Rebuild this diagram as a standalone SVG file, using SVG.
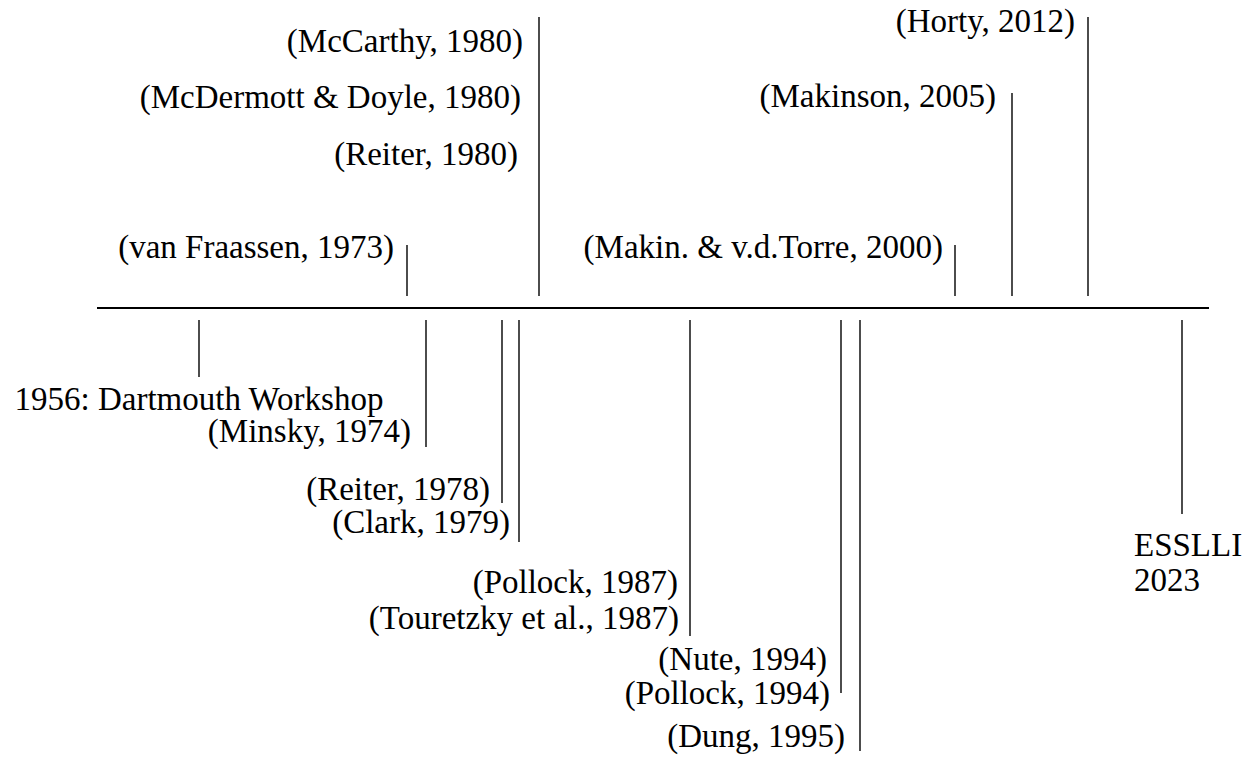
<svg xmlns="http://www.w3.org/2000/svg" width="1251" height="757" viewBox="0 0 1251 757">
<style>
  text { font-family: "Liberation Serif", "Times New Roman", serif; font-size: 33px; fill: #000; }
  .r { text-anchor: end; }
  .c { text-anchor: middle; }
  .tick { stroke: #000; stroke-width: 1.4; fill: none; }
  .axis { stroke: #000; stroke-width: 1.8; fill: none; }
</style>
<rect width="1251" height="757" fill="#fff"/>
<g id="connectors">
  <line class="axis" x1="97" y1="308" x2="1209" y2="308"/>
  <line class="tick" x1="407" y1="245" x2="407" y2="296"/>
  <line class="tick" x1="539" y1="17" x2="539" y2="296"/>
  <line class="tick" x1="955" y1="245" x2="955" y2="296"/>
  <line class="tick" x1="1012" y1="93" x2="1012" y2="296"/>
  <line class="tick" x1="1088" y1="17" x2="1088" y2="296"/>
  <line class="tick" x1="199" y1="320" x2="199" y2="377"/>
  <line class="tick" x1="426" y1="320" x2="426" y2="447"/>
  <line class="tick" x1="502" y1="320" x2="502" y2="503"/>
  <line class="tick" x1="519" y1="320" x2="519" y2="542"/>
  <line class="tick" x1="690" y1="320" x2="690" y2="636"/>
  <line class="tick" x1="841" y1="320" x2="841" y2="693"/>
  <line class="tick" x1="860" y1="320" x2="860" y2="751"/>
  <line class="tick" x1="1182" y1="320" x2="1182" y2="514"/>
</g>
<g id="n1980">
  <text class="r" x="523" y="52">(McCarthy, 1980)</text>
  <text class="r" x="521" y="108">(McDermott &amp; Doyle, 1980)</text>
  <text class="r" x="518" y="165">(Reiter, 1980)</text>
</g>
<g id="n1973"><text class="r" x="394" y="258">(van Fraassen, 1973)</text></g>
<g id="n2000"><text class="r" x="943" y="258">(Makin. &amp; v.d.Torre, 2000)</text></g>
<g id="n2005"><text class="r" x="996" y="107">(Makinson, 2005)</text></g>
<g id="n2012"><text class="r" x="1075" y="32">(Horty, 2012)</text></g>
<g id="n1956"><text class="c" x="199" y="410">1956: Dartmouth Workshop</text></g>
<g id="n1974"><text class="r" x="411" y="442">(Minsky, 1974)</text></g>
<g id="n1978"><text class="r" x="490" y="500">(Reiter, 1978)</text></g>
<g id="n1979"><text class="r" x="510" y="533">(Clark, 1979)</text></g>
<g id="n1987">
  <text class="r" x="678" y="593">(Pollock, 1987)</text>
  <text class="r" x="679" y="629">(Touretzky et al., 1987)</text>
</g>
<g id="n1994">
  <text class="r" x="827" y="670">(Nute, 1994)</text>
  <text class="r" x="830" y="704">(Pollock, 1994)</text>
</g>
<g id="n1995"><text class="r" x="845" y="747">(Dung, 1995)</text></g>
<g id="n2023">
  <text x="1134" y="556">ESSLLI</text>
  <text x="1134" y="591">2023</text>
</g>
</svg>
